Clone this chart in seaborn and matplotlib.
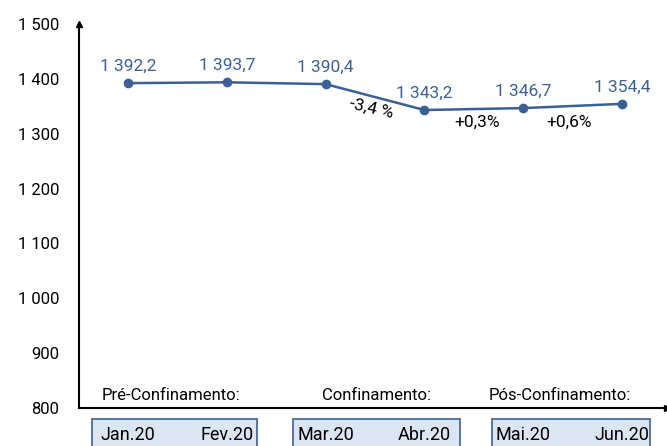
import matplotlib
matplotlib.use("Agg")
import matplotlib.pyplot as plt
import matplotlib.transforms as mtransforms
from matplotlib.patches import Rectangle
import seaborn as sns
import pandas as pd

# dados
meses = ["Jan.20", "Fev.20", "Mar.20", "Abr.20", "Mai.20", "Jun.20"]
valores = [1392.2, 1393.7, 1390.4, 1343.2, 1346.7, 1354.4]
variacoes = ["-3,4 %", "+0,3%", "+0,6%"]
fases = ["Pré-Confinamento:", "Confinamento:", "Pós-Confinamento:"]
y_ticks = [800, 900, 1000, 1100, 1200, 1300, 1400, 1500]

azul = "#3a6096"

sns.set_style("white")
plt.rcParams["font.family"] = ["Roboto", "DejaVu Sans"]
plt.rcParams["text.color"] = "black"

df = pd.DataFrame({"x": range(len(meses)), "valor": valores})

fig = plt.figure(figsize=(6.67, 4.46), dpi=100)
ax = fig.add_axes([0.1184, 0.0852, 0.8816, 0.861])

sns.lineplot(data=df, x="x", y="valor", ax=ax, color=azul, linewidth=1.8,
             marker="o", markersize=7, markeredgewidth=0)

ax.set_xlim(-0.496, 5.455)
ax.set_ylim(800, 1500)
ax.set_yticks(y_ticks)
ax.set_yticklabels([f"{v:,}".replace(",", " ") for v in y_ticks], fontsize=12)
ax.set_xticks(range(len(meses)))
ax.set_xticklabels(meses, fontsize=13)
ax.tick_params(axis="x", length=4, width=1.3, pad=9, colors="black")
ax.tick_params(axis="y", length=5, width=1.3, pad=9, colors="black")
ax.set_xlabel("")
ax.set_ylabel("")

for s in ["top", "right"]:
    ax.spines[s].set_visible(False)
for s in ["left", "bottom"]:
    ax.spines[s].set_color("black")
    ax.spines[s].set_linewidth(1.5)

# setas nos eixos
ax.plot(0, 1, marker="^", color="black", markersize=4, transform=ax.transAxes, clip_on=False)
ax.plot(1, 0, marker=">", color="black", markersize=4, transform=ax.transAxes, clip_on=False)

# rótulos dos valores
for i, v in enumerate(valores):
    txt = f"{v:,.1f}".replace(",", " ").replace(".", ",")
    ax.annotate(txt, (i, v), xytext=(0, 9), textcoords="offset points",
                ha="center", va="baseline", color=azul, fontsize=12.5)

# variações
ax.text(2.46, 1346, variacoes[0], rotation=-13, ha="center", va="center", fontsize=12.5)
ax.text(3.53, 1321, variacoes[1], ha="center", va="center", fontsize=12.5)
ax.text(4.46, 1321, variacoes[2], ha="center", va="center", fontsize=12.5)

# fases e caixas
trans = mtransforms.blended_transform_factory(ax.transData, ax.transAxes)
centros = [0.44, 2.52, 4.37]
esquerdas = [-0.364, 1.67, 3.684]
larguras = [1.67, 1.69, 1.6]
for k, fase in enumerate(fases):
    ax.text(centros[k], 0.022, fase, transform=trans, ha="center", va="baseline", fontsize=12)
    ax.add_patch(Rectangle((esquerdas[k], -0.2), larguras[k], 0.1714, transform=trans,
                           clip_on=False, facecolor="#dce5f2", edgecolor="#4a6b9c",
                           linewidth=1.3, zorder=0))

fig.savefig("out.png", dpi=100)
